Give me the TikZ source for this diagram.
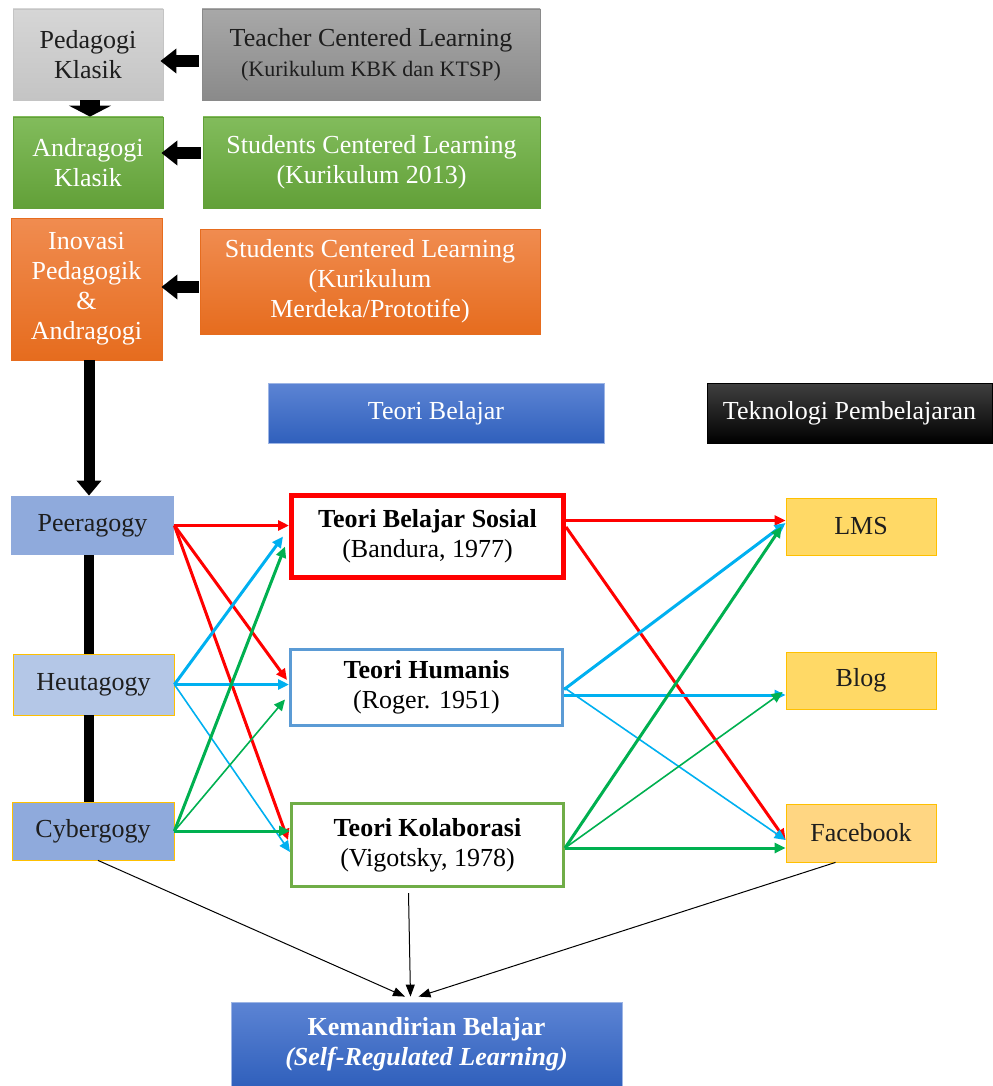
\documentclass[tikz,border=0pt]{standalone}
\usepackage{fontspec}
\setmainfont{Liberation Serif}
\usepackage{xcolor}
\usepackage{tikz}
\usetikzlibrary{calc,arrows.meta}
\definecolor{slGrayLight}{RGB}{214,214,214}
\definecolor{slGrayLightB}{RGB}{196,196,196}
\definecolor{slGray}{RGB}{168,168,168}
\definecolor{slGrayB}{RGB}{138,138,138}
\definecolor{slGreen}{RGB}{130,188,92}
\definecolor{slGreenB}{RGB}{98,160,56}
\definecolor{slOrange}{RGB}{240,140,80}
\definecolor{slOrangeB}{RGB}{230,108,30}
\definecolor{slBlue}{RGB}{92,132,212}
\definecolor{slBlueB}{RGB}{48,96,188}
\definecolor{slPeer}{RGB}{143,170,220}
\definecolor{slHeut}{RGB}{180,199,231}
\definecolor{slGold}{RGB}{255,192,0}
\definecolor{slYellow}{RGB}{255,217,102}
\definecolor{slYellowFb}{RGB}{255,214,130}
\definecolor{slRed}{RGB}{255,0,0}
\definecolor{slCyan}{RGB}{0,176,240}
\definecolor{slGreenLine}{RGB}{0,176,80}
\definecolor{slHumBorder}{RGB}{91,155,213}
\definecolor{slKolBorder}{RGB}{112,173,71}
\definecolor{slText}{RGB}{30,30,30}

\begin{document}
\begin{tikzpicture}[x=0.5pt,y=-0.5pt,
    box/.style={rectangle, inner sep=1pt, align=center, font=\fontsize{13}{15}\selectfont},
    graybox/.style={box, top color=slGrayLight, bottom color=slGrayLightB, draw=slGrayLightB, text=slText},
    darkgraybox/.style={box, top color=slGray, bottom color=slGrayB, draw=slGrayB, text=slText},
    greenbox/.style={box, top color=slGreen, bottom color=slGreenB, draw=slGreenB, text=white},
    orangebox/.style={box, top color=slOrange, bottom color=slOrangeB, draw=slOrangeB, text=white},
    bluebox/.style={box, top color=slBlue, bottom color=slBlueB, draw=slBlue!60, text=white},
    blackbox/.style={box, top color=black!75, bottom color=black, draw=black, text=white},
    agogybox/.style={box, fill=slPeer, text=slText},
    mediabox/.style={box, fill=slYellow, draw=slGold, text=slText},
    theorybox/.style={box, fill=white, text=black},
    fatarrow/.style={line width=6pt, -{Triangle[length=8pt,width=12pt]}},
    thickline/.style={line width=5pt},
    link/.style={line width=1.5pt, -{Triangle[length=5.5pt,width=5pt]}},
    thinlink/.style={line width=0.8pt, -{Triangle[length=5.5pt,width=5pt]}},
    blacklink/.style={line width=0.5pt, black, -{Triangle[length=6pt,width=4.5pt]}}]
    \useasboundingbox (0,0) rectangle (992,1086);

    % top rows
    \node[graybox, minimum width=75pt, minimum height=45.5pt] (pedagogi) at (88,54.5) {Pedagogi\\Klasik};
    \node[darkgraybox, minimum width=169pt, minimum height=45.5pt] (teacher) at (371,54.5)
        {Teacher Centered Learning\\{\fontsize{11}{13}\selectfont (Kurikulum KBK dan KTSP)}};
    \node[greenbox, minimum width=75pt, minimum height=45.5pt] (andragogi) at (88,162.5) {Andragogi\\Klasik};
    \node[greenbox, minimum width=168.5pt, minimum height=45.5pt] (scl) at (371.5,162.5)
        {Students Centered Learning\\(Kurikulum 2013)};
    \node[orangebox, minimum width=75.5pt, minimum height=71pt] (inovasi) at (86.5,289)
        {Inovasi\\Pedagogik\\\&\\Andragogi};
    \node[orangebox, minimum width=170pt, minimum height=52.5pt] (merdeka) at (370,281.5)
        {Students Centered Learning\\(Kurikulum\\Merdeka/Prototife)};

    % headers
    \node[bluebox, minimum width=168pt, minimum height=30pt] (teori) at (436,413) {Teori Belajar};
    \node[blackbox, minimum width=142.5pt, minimum height=30pt] (teknologi) at (849.5,413) {Teknologi Pembelajaran};

    % left column
    \node[agogybox, minimum width=81.5pt, minimum height=29.5pt] (peer) at (92.5,525.5) {Peeragogy};
    \node[agogybox, fill=slHeut, draw=slGold, minimum width=80.5pt, minimum height=30.5pt] (heut) at (93.5,684.5) {Heutagogy};
    \node[agogybox, draw=slGold, minimum width=81pt, minimum height=29pt] (cyber) at (93,831) {Cybergogy};
    \coordinate (spine) at ([xshift=-1.75pt]peer.south);

    % middle column
    \node[theorybox, draw=slRed, line width=2.5pt, minimum width=136pt, minimum height=41pt] (sosial) at (427.5,536.5)
        {\textbf{Teori Belajar Sosial}\\(Bandura, 1977)};
    \node[theorybox, draw=slHumBorder, line width=1.5pt, minimum width=136pt, minimum height=38pt] (humanis) at (426.5,687.5)
        {\textbf{Teori Humanis}\\(Roger. 1951)};
    \node[theorybox, draw=slKolBorder, line width=1.5pt, minimum width=136pt, minimum height=41.5pt] (kolab) at (427.5,845)
        {\textbf{Teori Kolaborasi}\\(Vigotsky, 1978)};

    % right column
    \node[mediabox, minimum width=75pt, minimum height=28.5pt] (lms) at (861,526.5) {LMS};
    \node[mediabox, minimum width=75pt, minimum height=28.5pt] (blog) at (861,680.5) {Blog};
    \node[mediabox, fill=slYellowFb, minimum width=75pt, minimum height=29pt] (fb) at (861,833) {Facebook};

    % result
    \node[bluebox, font=\fontsize{13}{15}\selectfont\bfseries, minimum width=195.5pt, minimum height=42pt] (kem) at (426.5,1044)
        {Kemandirian Belajar\\\textit{(Self-Regulated Learning)}};

    % block arrows
    \draw[fatarrow] ([xshift=-1.5pt,yshift=-3.25pt]teacher.west) -- ([xshift=-1.5pt,yshift=-3.25pt]teacher.west -| pedagogi.east);
    \draw[fatarrow] ([xshift=-1pt,yshift=4.75pt]scl.west) -- ([xshift=-1pt,yshift=4.75pt]scl.west -| andragogi.east);
    \draw[fatarrow] ([xshift=-0.5pt,yshift=-2.75pt]merdeka.west) -- ([xshift=-0.5pt,yshift=-2.75pt]merdeka.west -| inovasi.east);
    \draw[line width=10pt, -{Triangle[length=5.5pt,width=21pt]}] ([xshift=1pt]pedagogi.south) -- ([xshift=1pt]andragogi.north);
    \draw[line width=5.5pt, -{Triangle[length=7.5pt,width=12pt]}] (spine |- inovasi.south) -- (spine |- peer.north);
    \draw[thickline] (spine) -- (spine |- heut.north);
    \draw[thickline] (spine |- heut.south) -- (spine |- cyber.north);

    % agogy to theory
    \draw[link, slRed] (peer.east) -- (peer.east -| sosial.west);
    \draw[link, slRed] (peer.east) -- ([yshift=3.75pt,xshift=-1pt]humanis.west);
    \draw[link, slRed] (peer.east) -- ([yshift=2.5pt,xshift=-1pt]kolab.west);
    \draw[link, slCyan] (heut.east) -- ([xshift=-3pt]sosial.west);
    \draw[link, slCyan] (heut.east) -- (heut.east -| humanis.west);
    \draw[thinlink, slCyan] (heut.east) -- ([yshift=-3.5pt]kolab.west);
    \draw[link, slGreenLine] (cyber.east) -- ([yshift=-5pt,xshift=-2pt]sosial.west);
    \draw[thinlink, slGreenLine] (cyber.east) -- ([yshift=-6pt,xshift=-2pt]humanis.west);
    \draw[link, slGreenLine] (cyber.east) -- (cyber.east -| kolab.west);

    % theory to media
    \draw[link, slRed] ([yshift=8pt]sosial.east) -- ([yshift=8pt]sosial.east -| lms.west);
    \draw[link, slRed] ([yshift=4.75pt]sosial.east) -- ([yshift=-3.5pt]fb.west);
    \draw[link, slCyan] ([yshift=-1pt]humanis.east) -- ([yshift=1.75pt]lms.west);
    \draw[link, slCyan] ([yshift=-3.75pt]humanis.east) -- ([yshift=-3.75pt]humanis.east -| blog.west);
    \draw[thinlink, slCyan] (humanis.east) -- ([yshift=-3.5pt]fb.west);
    \draw[link, slGreenLine] ([yshift=-1.5pt]kolab.east) -- ([xshift=-2pt]lms.west);
    \draw[thinlink, slGreenLine] ([yshift=-1.5pt]kolab.east) -- ([yshift=-5.75pt,xshift=-1.5pt]blog.west);
    \draw[link, slGreenLine] ([yshift=-1.5pt]kolab.east) -- ([yshift=-1.5pt]kolab.east -| fb.west);

    % to result
    \draw[blacklink] ([xshift=2.5pt]cyber.south) -- ([xshift=-10.75pt,yshift=2.5pt]kem.north);
    \draw[blacklink] ([xshift=-9.5pt,yshift=-2.5pt]kolab.south) -- ([xshift=-8pt,yshift=2.5pt]kem.north);
    \draw[blacklink] ([xshift=-12.75pt]fb.south) -- ([xshift=-4pt,yshift=2.5pt]kem.north);
\end{tikzpicture}
\end{document}
